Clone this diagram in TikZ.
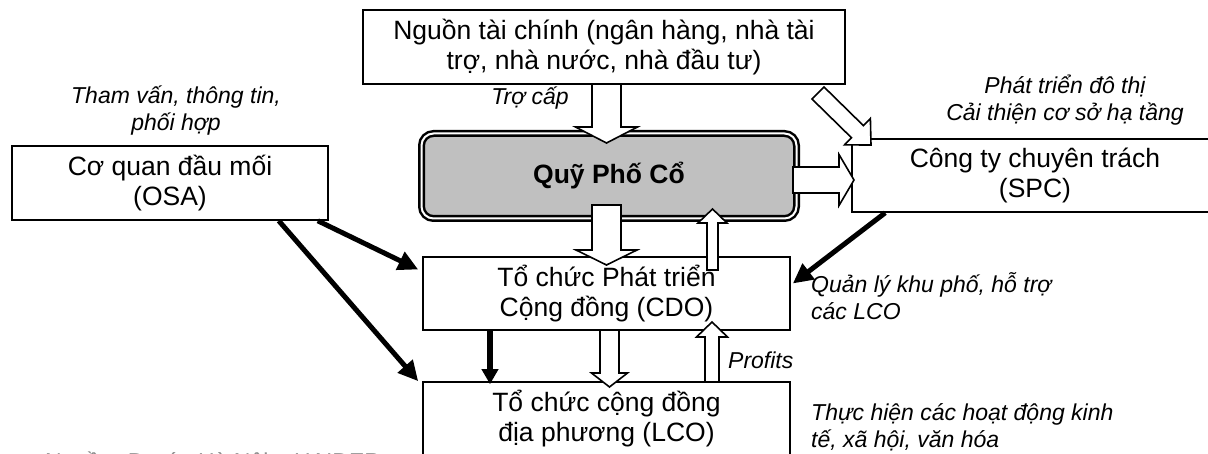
\documentclass[tikz,border=0pt]{standalone}
\usepackage{fontspec}
\setmainfont{Liberation Sans}
\usetikzlibrary{arrows.meta,calc}

\definecolor{fundgray}{RGB}{192,192,192}
\newcommand\boxfont{\fontsize{26.5bp}{30.5bp}\selectfont}
\newcommand\lblfont{\fontsize{23bp}{27bp}\selectfont}

% hollow block arrow: #1 tail, #2 tip, #3 half shaft width, #4 half head width, #5 head length
\newcommand\blockarr[5]{%
  \coordinate (ba-c) at ($(#2)!#5!(#1)$);
  \draw[hollow] ($(#1)!#3!90:(#2)$) -- ($(ba-c)!#3!-90:(#1)$) -- ($(ba-c)!#4!-90:(#1)$)
    -- (#2) -- ($(ba-c)!#4!90:(#1)$) -- ($(ba-c)!#3!90:(#1)$) -- ($(#1)!#3!-90:(#2)$) -- cycle;
}

\tikzset{
  box/.style={draw=black, line width=1.6bp, fill=white, align=center, inner sep=0pt, font=\boxfont},
  fund/.style={draw=black, line width=2.5bp, double=white, double distance=2bp,
    rounded corners=12bp, fill=fundgray, inner sep=0pt, font=\boxfont\bfseries,
    minimum width=375bp, minimum height=85bp},
  hollow/.style={draw=black, fill=white, line width=1.6bp, line join=miter},
  heavy/.style={line width=5bp, -{Triangle[length=20bp,width=19bp]}},
  lbl/.style={font=\lblfont\itshape, inner sep=0pt},
}

\begin{document}
\begin{tikzpicture}[x=1bp,y=-1bp]
\useasboundingbox (0,0) rectangle (1208,454);
\clip (0,0) rectangle (1208,454);

% organisations
\node[box, minimum width=482bp, minimum height=74bp] (fin) at (604,47)
  {Nguồn tài chính (ngân hàng, nhà tài\\trợ, nhà nước, nhà đầu tư)};
\node[fund] (quy) at (609,176) {Quỹ Phố Cổ};
\node[box, minimum width=316bp, minimum height=74bp] (osa) at (170,183)
  {Cơ quan đầu mối\\(OSA)};
\node[box, minimum width=366bp, minimum height=73bp] (spc) at (1035,175.5)
  {Công ty chuyên trách\\(SPC)};
\node[box, minimum width=367bp, minimum height=73bp] (cdo) at (606.5,293.5)
  {Tổ chức Phát triển\\Cộng đồng (CDO)};
\node[box, minimum width=367bp, minimum height=73bp] (lco) at (606.5,418.5)
  {Tổ chức cộng đồng\\địa phương (LCO)};

% flows of money and services
\coordinate (f1) at (606.5,84);   \coordinate (f1t) at (606.5,143);
\blockarr{f1}{f1t}{14.5bp}{31bp}{16bp}
\coordinate (q2) at (606.5,205);  \coordinate (q2t) at (606.5,265);
\blockarr{q2}{q2t}{14.5bp}{30.5bp}{15bp}
\coordinate (c3) at (712.5,270);  \coordinate (c3t) at (712.5,209);
\blockarr{c3}{c3t}{5.5bp}{14.5bp}{14bp}
\coordinate (l4) at (712,382);    \coordinate (l4t) at (712,322);
\blockarr{l4}{l4t}{7bp}{15.5bp}{15bp}
\coordinate (c5) at (609.5,330);  \coordinate (c5t) at (609.5,387);
\blockarr{c5}{c5t}{9.5bp}{18bp}{14bp}
\coordinate (q6) at (793,180);    \coordinate (q6t) at (854,180);
\blockarr{q6}{q6t}{13bp}{25.5bp}{15bp}
\coordinate (f7) at (818,93);     \coordinate (f7t) at (871,145);
\blockarr{f7}{f7t}{8.5bp}{18.5bp}{19bp}

% coordination and management links
\draw[heavy] ([xshift=-11bp]osa.south east) -- ([xshift=-4bp,yshift=24bp]cdo.west);
\draw[heavy] ([xshift=-50bp]osa.south east) -- ([xshift=-4bp]lco.north west);
\draw[heavy] ([xshift=34bp]spc.south west) -- ([xshift=2bp,yshift=10bp]cdo.east);
\draw[line width=5.5bp, -{Triangle[length=15bp,width=16bp]}]
  ([xshift=-116.5bp]cdo.south) -- ([xshift=-116.5bp,yshift=-3bp]lco.north);

% annotations
\node[lbl, align=center] (t-osa) at (176,110.5) {Tham vấn, thông tin,\\phối hợp};
\node[lbl] (t-sub) at (530,98) {Trợ cấp};
\node[lbl, align=center] (t-spc) at (1065,100) {Phát triển đô thị\\Cải thiện cơ sở hạ tầng};
\node[lbl, align=left, anchor=west] (t-cdo) at (811,296.5) {Quản lý khu phố, hỗ trợ\\các LCO};
\node[lbl, align=left, anchor=west] (t-lco) at (811,427.5) {Thực hiện các hoạt động kinh\\tế, xã hội, văn hóa};
\node[lbl, anchor=west] (t-prof) at (728,360) {Profits};

% source line, running off the lower edge
\node[anchor=base west, inner sep=0pt, text=black!45, font=\lblfont] (src) at (45,470)
  {Nguồn: Dự án Hà Nội – HAIDEP};
\end{tikzpicture}
\end{document}
